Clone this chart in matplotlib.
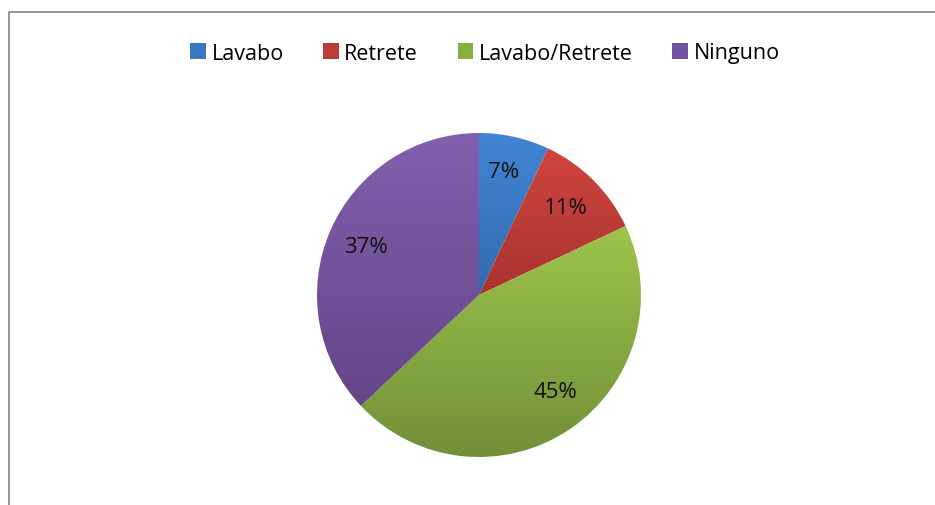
import matplotlib
matplotlib.use("Agg")
import matplotlib.pyplot as plt
import numpy as np
from matplotlib.lines import Line2D
from matplotlib.patches import Rectangle

labels = ["Lavabo", "Retrete", "Lavabo/Retrete", "Ninguno"]
shares = [7, 11, 45, 37]
pct_text = ["7%", "11%", "45%", "37%"]
# (top colour, bottom colour) for the vertical gradient of each slice
top_colors = ["#4285D4", "#D0463F", "#9DC44C", "#8160AE"]
bottom_colors = ["#336BB0", "#A9322F", "#718F38", "#654587"]
legend_colors = ["#3B77C2", "#BE3C38", "#86AE40", "#7352A0"]

plt.rcParams["font.family"] = ["Open Sans", "DejaVu Sans"]

W, H = 935, 506
fig = plt.figure(figsize=(W / 100, H / 100), dpi=100)

cx, cy, r = 479, 296, 162
ax = fig.add_axes([(cx - r) / W, (H - cy - r) / H, 2 * r / W, 2 * r / H])
wedges, _ = ax.pie(shares, startangle=90, counterclock=False,
                   colors=legend_colors, radius=1.0)


def hex_rgb(h):
    return np.array([int(h[i:i + 2], 16) / 255 for i in (1, 3, 5)])


for w, c0, c1 in zip(wedges, top_colors, bottom_colors):
    ext = w.get_path().get_extents(w.get_patch_transform())
    t = np.linspace(0, 1, 128)[:, None]
    grad = (1 - t) * hex_rgb(c0) + t * hex_rgb(c1)
    img = ax.imshow(grad[:, None, :].repeat(2, axis=1),
                    extent=[ext.x0, ext.x1, ext.y0, ext.y1],
                    origin="upper", aspect="auto", zorder=1.5)
    img.set_clip_path(w)
    w.set_facecolor("none")
    w.set_edgecolor("white")
    w.set_linewidth(0.4)

ax.set_xlim(-1, 1)
ax.set_ylim(-1, 1)
ax.set_aspect("equal")
ax.axis("off")

# percentage labels (Excel "best fit" spots, roughly)
angles = 90 - 360 * (np.cumsum(shares) - np.array(shares) / 2) / sum(shares)
angles = angles + np.array([1.5, 0.0, 4.0, 0.0])
dists = [0.78, 0.76, 0.76, 0.76]
for a, d, s in zip(angles, dists, pct_text):
    ax.text(d * np.cos(np.radians(a)), d * np.sin(np.radians(a)), s,
            ha="center", va="center", fontsize=16, color="#111111", zorder=3)

handles = [Rectangle((0, 0), 1, 1, facecolor=c, edgecolor="none") for c in legend_colors]
fig.legend(handles, labels, loc="center", bbox_to_anchor=(485 / W, 1 - 54 / H),
           ncol=4, frameon=False, fontsize=15.5, handlelength=0.72, handleheight=0.72,
           handletextpad=0.25, columnspacing=1.85)

# chart-area border (left and top edges visible)
fig.add_artist(Line2D([8.5 / W, 8.5 / W, 1.0], [0.0, 1 - 12.5 / H, 1 - 12.5 / H],
                      transform=fig.transFigure, color="#8c8c8c", linewidth=1.3))

fig.savefig("out.png", dpi=100)
